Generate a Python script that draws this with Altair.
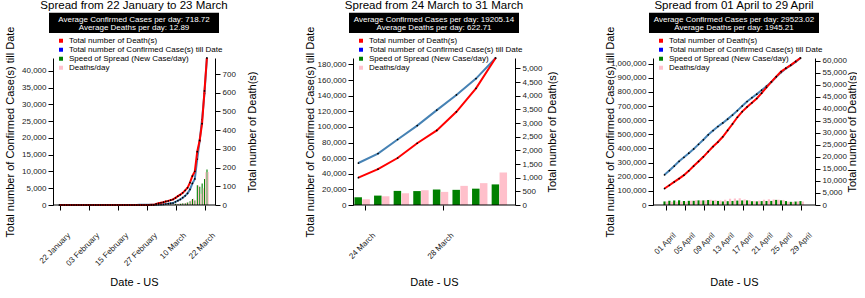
import altair as alt
import pandas as pd

FONT = "Liberation Sans"
W, H = 162, 147

SERIES = ["Total number of Death(s)", "Total number of Confirmed Case(s) till Date",
          "Speed of Spread (New Case/day)", "Deaths/day"]
SERIES_COLORS = ["red", "blue", "green", "pink"]

# ---------------- Panel 1: 22 January -> 23 March ----------------
p1_dates = pd.date_range("2020-01-22", "2020-03-23").strftime("%d %B").tolist()
p1_ticks = ["22 January", "03 February", "15 February", "27 February", "10 March", "22 March"]
p1_confirmed = [1, 1, 2, 2, 5, 5, 5, 5, 5, 7,
                8, 8, 11, 11, 11, 11, 11, 11, 11, 11, 12, 12, 13, 13, 13, 13, 13, 13, 13, 13,
                15, 15, 15, 51, 51, 57, 58, 60, 68,
                74, 98, 118, 149, 217, 262, 402, 518, 583, 959, 1281, 1663, 2179, 2727, 3499,
                4632, 6421, 7786, 13680, 19101, 25493, 33276, 43847]
p1_new = [1, 0, 1, 0, 3, 0, 0, 0, 0, 2,
          1, 0, 3, 0, 0, 0, 0, 0, 0, 0, 1, 0, 1, 0, 0, 0, 0, 0, 0, 0,
          2, 0, 0, 36, 0, 6, 1, 2, 8,
          6, 24, 20, 31, 68, 45, 140, 116, 65, 376, 322, 382, 516, 548, 772,
          1133, 1789, 1365, 5894, 5421, 6392, 7783, 10571]
p1_deaths = [0, 0, 0, 0, 0, 0, 0, 0, 0, 0,
             0, 0, 0, 0, 0, 0, 0, 0, 0, 0, 0, 0, 0, 0, 0, 0, 0, 0, 0, 0,
             0, 0, 0, 0, 0, 0, 0, 0, 1,
             1, 6, 9, 12, 15, 19, 22, 26, 30, 38, 47, 55, 65, 78, 92,
             120, 155, 180, 285, 345, 435, 610, 786]
p1_deaths_day = [0, 0, 0, 0, 0, 0, 0, 0, 0, 0,
                 0, 0, 0, 0, 0, 0, 0, 0, 0, 0, 0, 0, 0, 0, 0, 0, 0, 0, 0, 0,
                 0, 0, 0, 0, 0, 0, 0, 0, 1,
                 0, 5, 3, 3, 3, 4, 3, 4, 4, 8, 9, 8, 10, 13, 14,
                 28, 35, 25, 105, 60, 90, 175, 176]
p1_conf_ticks = [0, 5000, 10000, 15000, 20000, 25000, 30000, 35000, 40000]
p1_death_ticks = [0, 100, 200, 300, 400, 500, 600, 700]

# ---------------- Panel 2: 24 March -> 31 March ----------------
p2_dates = pd.date_range("2020-03-24", "2020-03-31").strftime("%d %B").tolist()
p2_ticks = ["24 March", "28 March"]
p2_confirmed = [53740, 65778, 83836, 101657, 121478, 140886, 161807, 188172]
p2_new = [9893, 12038, 18058, 17821, 19821, 19408, 20921, 26365]
p2_deaths = [1000, 1310, 1720, 2260, 2730, 3410, 4270, 5380]
p2_deaths_day = [210, 320, 430, 540, 480, 700, 800, 1190]
p2_conf_ticks = [0, 20000, 40000, 60000, 80000, 100000, 120000, 140000, 160000, 180000]
p2_death_ticks = [0, 500, 1000, 1500, 2000, 2500, 3000, 3500, 4000, 4500, 5000]

# ---------------- Panel 3: 01 April -> 29 April ----------------
p3_dates = pd.date_range("2020-04-01", "2020-04-29").strftime("%d %B").tolist()
p3_ticks = ["01 April", "05 April", "09 April", "13 April", "17 April", "21 April", "25 April", "29 April"]
p3_confirmed = [213372, 243453, 275586, 308850, 337072, 366667, 396223, 429052, 461437, 496535,
                526396, 555313, 580619, 607670, 636350, 667592, 699706, 732197, 758809, 784326,
                811865, 840351, 869170, 905358, 938154, 965785, 988197, 1012582, 1039909]
p3_new = [25200, 30081, 32133, 33264, 28222, 29595, 29556, 32829, 32385, 35098,
          29861, 28917, 25306, 27051, 28680, 31242, 32114, 32491, 26612, 25517,
          27539, 28486, 28819, 36188, 32796, 27631, 22412, 24385, 27327]
p3_deaths = [6850, 8200, 9600, 11000, 12400, 14200, 16200, 18100, 20040, 22200,
             24300, 26200, 28390, 31000, 33700, 36500, 38830, 40800, 42500, 44300,
             46510, 48900, 51200, 53400, 55500, 56900, 58200, 59700, 61150]
p3_deaths_day = [1470, 1350, 1400, 1400, 1400, 1800, 2000, 1900, 1940, 2160,
                 2100, 1900, 2190, 2610, 2700, 2800, 2330, 1970, 1700, 1800,
                 2210, 2390, 2300, 2200, 2100, 1400, 1300, 1500, 1450]
p3_conf_ticks = [0, 100000, 200000, 300000, 400000, 500000, 600000, 700000, 800000, 900000, 1000000]
p3_death_ticks = [0, 5000, 10000, 15000, 20000, 25000, 30000, 35000, 40000, 45000, 50000, 55000, 60000]


def panel(dates, ticks, confirmed, new, deaths, deaths_day, conf_ticks, death_ticks,
          title, avg1, avg2, x_range, bar_w, green_off, pink_off, line_off):
    df = pd.DataFrame({"date": dates, "confirmed": confirmed, "new": new,
                       "deaths": deaths, "deaths_day": deaths_day})
    x = alt.X("date:O", sort=dates,
              scale=alt.Scale(type="band", paddingInner=0, paddingOuter=0, range=x_range),
              axis=alt.Axis(values=ticks, labelAngle=315, labelAlign="right", labelBaseline="middle",
                            labelPadding=24, labelOffset=9, labelFontSize=8, labelOverlap=False,
                            bandPosition=0.5, tickSize=5, domain=False,
                            title="Date - US", titleFontSize=11, titleFontWeight="normal",
                            titleX=W / 2, titleY=77, titleBaseline="middle", titleAlign="center"))
    base = alt.Chart(df).encode(x=x)

    lscale = alt.Scale(domain=[0, max(confirmed)], nice=False)
    laxis = alt.Axis(orient="left", values=conf_ticks, format=",d", labelFontSize=8, tickSize=5,
                     labelPadding=2, grid=False,
                     title="Total number of Confirmed Case(s) till Date", titleFontSize=11,
                     titleFontWeight="normal", titleX=-43, titleY=H / 2, titleAngle=270,
                     titleBaseline="middle", titleAlign="center")
    rscale = alt.Scale(domain=[0, max(deaths)], nice=False)
    raxis = alt.Axis(orient="right", values=death_ticks, format=",d", labelFontSize=8, tickSize=5,
                     labelPadding=2, grid=False,
                     title="Total number of Death(s)", titleFontSize=11,
                     titleFontWeight="normal", titleX=37, titleY=H / 2, titleAngle=270,
                     titleBaseline="middle", titleAlign="center")

    left = alt.layer(
        base.mark_bar(color="green", width=bar_w, xOffset=green_off).encode(
            y=alt.Y("new:Q", scale=lscale, axis=laxis)),
        base.mark_line(color="steelblue", strokeWidth=2, xOffset=line_off).encode(
            y=alt.Y("confirmed:Q", scale=lscale, axis=laxis)),
        base.mark_circle(color="black", size=3, opacity=1, xOffset=line_off).encode(
            y=alt.Y("confirmed:Q", scale=lscale, axis=laxis)),
    )
    right = alt.layer(
        base.mark_bar(color="pink", width=bar_w, xOffset=pink_off).encode(
            y=alt.Y("deaths_day:Q", scale=rscale, axis=raxis)),
        base.mark_line(color="red", strokeWidth=2, xOffset=line_off).encode(
            y=alt.Y("deaths:Q", scale=rscale, axis=raxis)),
        base.mark_circle(color="black", size=3, opacity=1, xOffset=line_off).encode(
            y=alt.Y("deaths:Q", scale=rscale, axis=raxis)),
    )

    baseline = alt.Chart(pd.DataFrame({"t": [title]})).mark_rule(color="black", strokeWidth=1).encode(
        x=alt.value(0), x2=alt.value(W), y=alt.value(H))
    title_mark = alt.Chart(pd.DataFrame({"t": [title]})).mark_text(
        fontSize=11.5, font=FONT, color="black", baseline="middle", align="center").encode(
        text="t:N", x=alt.value(W / 2), y=alt.value(-52))
    box = alt.Chart(pd.DataFrame({"t": [title]})).mark_rect(color="black").encode(
        x=alt.value(-4), x2=alt.value(W + 4), y=alt.value(-45.3), y2=alt.value(-25))
    stat1 = alt.Chart(pd.DataFrame({"t": [avg1]})).mark_text(
        fontSize=8, font=FONT, color="white", baseline="middle", align="center").encode(
        text="t:N", x=alt.value(W / 2), y=alt.value(-38.5))
    stat2 = alt.Chart(pd.DataFrame({"t": [avg2]})).mark_text(
        fontSize=8, font=FONT, color="white", baseline="middle", align="center").encode(
        text="t:N", x=alt.value(W / 2), y=alt.value(-30.5))
    legend = alt.Chart(pd.DataFrame({"series": SERIES})).mark_square(opacity=0, size=16).encode(
        color=alt.Color("series:N", scale=alt.Scale(domain=SERIES, range=SERIES_COLORS),
                        legend=alt.Legend(title=None, orient="none", legendX=4, legendY=-21,
                                          direction="vertical", symbolType="square", symbolSize=16,
                                          symbolOpacity=1, symbolStrokeWidth=0, labelFontSize=8,
                                          labelFont=FONT, labelLimit=300, padding=0, rowPadding=0,
                                          clipHeight=7.6, labelOffset=4)))

    return alt.layer(left, right, baseline, box, title_mark, stat1, stat2, legend).resolve_scale(
        y="independent").properties(width=W, height=H)


c1 = panel(p1_dates, p1_ticks, p1_confirmed, p1_new, p1_deaths, p1_deaths_day, p1_conf_ticks,
           p1_death_ticks, "Spread from 22 January to 23 March",
           "Average Confirmed Cases per day: 718.72", "Average Deaths per day: 12.89",
           [6.1, 155.9], 1.1, -0.7, 0.5, -0.8)
c2 = panel(p2_dates, p2_ticks, p2_confirmed, p2_new, p2_deaths, p2_deaths_day, p2_conf_ticks,
           p2_death_ticks, "Spread from 24 March to 31 March",
           "Average Confirmed Cases per day: 19205.14", "Average Deaths per day: 622.71",
           [2.6, 159.4], 7.5, -7.2, 0.7, -7.0)
c3 = panel(p3_dates, p3_ticks, p3_confirmed, p3_new, p3_deaths, p3_deaths_day, p3_conf_ticks,
           p3_death_ticks, "Spread from 01 April to 29 April",
           "Average Confirmed Cases per day: 29523.02", "Average Deaths per day: 1945.21",
           [10.6, 151.4], 2.2, -1.5, 0.9, -1.5)

chart = alt.hconcat(c1, c2, c3, spacing=138, bounds="flush").resolve_scale(
    x="independent", y="independent", color="independent").resolve_legend(
    color="independent").properties(
    padding={"left": 3, "top": 0, "right": 0, "bottom": 0}).configure(
    font=FONT).configure_axis(
    domainColor="black", tickColor="black", labelColor="#222", titleColor="black",
    labelFont=FONT, titleFont=FONT).configure_view(stroke=None)

chart.save("out.html", embed_options={"renderer": "svg", "actions": False})
